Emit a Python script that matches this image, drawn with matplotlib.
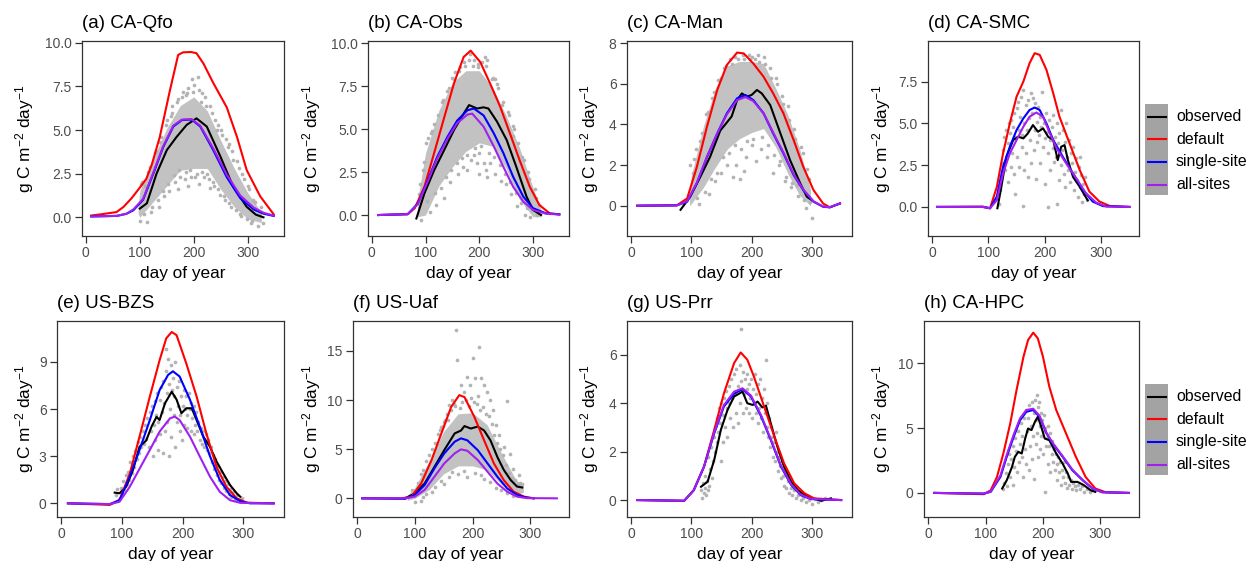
import matplotlib
matplotlib.use('Agg')
import matplotlib.pyplot as plt

plt.rcParams['font.family'] = ['Liberation Sans', 'DejaVu Sans']
plt.rcParams['mathtext.fontset'] = 'custom'
plt.rcParams['mathtext.rm'] = 'Liberation Sans'
plt.rcParams['mathtext.it'] = 'Liberation Sans:italic'
plt.rcParams['mathtext.bf'] = 'Liberation Sans:bold'

# ---- data: (day, value) pairs ----
series_names = ['observed', 'default', 'single-site', 'all-sites']
titles = ['(a) CA-Qfo', '(b) CA-Obs', '(c) CA-Man', '(d) CA-SMC',
          '(e) US-BZS', '(f) US-Uaf', '(g) US-Prr', '(h) CA-HPC']

# (a) CA-Qfo
qfo_obs = [(100,0.5),(113,0.8),(131,2.5),(150,3.85),(168,4.6),(187,5.3),(205,5.67),(224,5.2),
           (249,3.5),(273,1.75),(298,0.6),(315,0.15),(329,0.0)]
qfo_default = [(10,0.1),(30,0.18),(57,0.3),(70,0.6),(85,1.1),(100,1.7),(112,2.2),(122,3.0),(137,4.6),
               (156,7.3),(171,9.3),(180,9.45),(195,9.47),(205,9.4),(218,8.8),(236,7.7),(261,6.3),
               (280,4.6),(298,2.7),(323,1.2),(348,0.17)]
qfo_single = [(10,0.05),(57,0.08),(75,0.2),(88,0.4),(106,1.0),(125,2.5),(143,4.0),(162,5.2),(178,5.57),
              (196,5.6),(212,5.2),(236,3.85),(261,2.3),(286,1.1),(311,0.45),(330,0.2),(348,0.08)]
qfo_all = [(10,0.05),(57,0.08),(75,0.2),(88,0.45),(106,1.05),(125,2.55),(143,4.05),(162,5.25),(178,5.6),
           (196,5.62),(212,5.25),(236,3.95),(261,2.45),(286,1.25),(311,0.55),(330,0.25),(348,0.1)]
qfo_core = [(97,0.2,0.7),(100,0.0,1.5),(125,0.9,3.4),(150,1.8,5.1),(175,2.7,6.4),(200,2.8,6.9),
            (225,2.8,6.1),(250,1.6,4.4),(275,0.6,2.8),(300,-0.1,1.4),(325,-0.3,0.3)]
qfo_pts = [(100,-0.2),(105,2.0),(110,1.8),(113,-0.25),(115,2.6),(120,0.3),(130,3.8),(135,0.6),(140,4.6),
           (145,1.2),(150,5.6),(155,1.5),(160,6.0),(165,2.0),(170,6.8),(175,2.3),(180,7.2),(185,2.6),
           (190,7.4),(195,2.3),(200,7.6),(205,2.5),(208,8.05),(210,7.3),(215,2.6),(220,6.9),(225,2.5),
           (230,6.4),(235,2.0),(240,5.6),(245,1.6),(250,5.0),(255,1.2),(260,4.5),(265,0.8),(270,3.8),
           (280,3.2),(285,0.2),(290,2.5),(300,1.8),(305,-0.3),(310,1.0),(318,-0.5),(325,0.6),(190,1.8),
           (170,1.6),(210,1.9),(230,1.7),(160,6.4),(185,7.0),(197,7.9),(215,7.1),(245,5.3),(265,4.2),
           (103,1.9),(108,0.2),(118,2.9),(123,0.6),(128,3.7),(133,1.0),(138,4.3),(143,1.5),(148,5.3),
           (153,1.9),(158,5.8),(163,2.4),(168,6.6),(173,2.7),(178,6.9),(183,2.2),(188,7.1),(193,2.7),
           (198,7.2),(203,2.3),(213,6.6),(218,2.3),(223,6.4),(228,2.2),(233,6.0),(238,1.8),(243,5.0),
           (248,1.3),(253,4.7),(258,1.0),(263,4.0),(268,0.6),(273,3.3),(278,0.4),(283,2.8),(288,0.1),
           (293,2.2),(298,-0.1),(303,1.6),(308,-0.2),(313,0.9),(322,0.2),(328,-0.3)]

# (b) CA-Obs
obs_obs = [(83,-0.2),(98,1.26),(116,2.6),(135,3.8),(153,4.95),(171,5.9),(181,6.4),(196,6.2),(208,6.27),
           (217,6.2),(233,5.44),(251,4.37),(269,2.8),(288,1.07),(300,0.3),(315,0.0)]
obs_default = [(12,0.0),(67,0.05),(80,0.4),(98,1.65),(116,3.6),(135,5.7),(153,7.67),(171,9.2),(184,9.57),
               (202,8.9),(220,7.67),(239,6.3),(257,4.76),(275,3.2),(294,1.65),(312,0.58),(331,0.1),(349,0.04)]
obs_single = [(12,0.0),(67,0.05),(86,0.68),(104,2.0),(122,3.4),(141,4.56),(159,5.5),(178,6.1),(190,6.2),
              (208,5.8),(227,4.76),(245,3.6),(263,2.23),(282,1.07),(300,0.4),(324,0.1),(349,0.04)]
obs_all = [(12,0.0),(67,0.05),(86,0.65),(104,1.95),(122,3.3),(141,4.45),(159,5.35),(178,5.85),(187,5.9),
           (208,5.15),(227,4.0),(245,2.8),(263,1.65),(282,0.78),(300,0.3),(324,0.08),(349,0.03)]
obs_core = [(85,-0.1,0.8),(100,0.0,3.6),(125,1.7,6.1),(150,2.8,7.7),(175,3.7,8.4),(200,4.2,8.4),
            (225,4.0,7.4),(250,2.7,5.8),(275,0.9,3.9),(300,-0.1,1.6),(315,-0.1,0.3)]
obs_pts = [(90,1.8),(95,2.6),(100,4.2),(105,4.5),(110,4.8),(115,5.3),(120,0.6),(130,6.6),(135,1.0),
           (140,7.2),(145,1.9),(155,8.3),(160,2.4),(165,8.6),(170,2.8),(180,9.0),(182,9.4),(185,3.2),
           (190,9.0),(195,3.0),(200,2.4),(205,8.9),(210,9.2),(212,2.6),(215,9.0),(220,3.0),(225,8.0),
           (230,2.4),(235,7.4),(240,2.0),(245,6.6),(250,1.8),(255,5.8),(260,1.2),(265,5.0),(270,0.5),
           (280,3.4),(285,0.0),(290,2.5),(295,-0.1),(305,1.0),(190,3.5),(200,3.6),(215,2.2),(178,2.6),
           (92,-0.3),(108,0.2),(150,8.0),(172,8.9),(197,8.8),(230,7.9),(262,4.6),
           (88,1.2),(98,3.1),(103,0.8),(113,4.9),(118,1.3),(123,5.8),(128,1.6),(133,6.7),(138,2.2),
           (143,7.4),(148,2.6),(153,7.9),(158,3.0),(163,8.4),(168,3.3),(173,8.7),(178,3.5),(188,8.7),
           (193,3.9),(198,8.6),(203,4.0),(208,3.0),(213,8.7),(218,3.6),(223,7.9),(228,3.4),(233,7.6),
           (238,2.9),(243,6.4),(248,2.4),(253,6.0),(258,1.9),(263,5.2),(268,1.3),(273,4.2),(278,0.7),
           (283,3.2),(288,0.4),(293,2.1),(298,0.3),(303,1.5),(308,0.0),(312,0.6)]

# (c) CA-Man
man_obs = [(82,-0.2),(98,0.44),(115,1.43),(131,2.4),(148,3.7),(159,4.1),(167,4.4),(176,5.2),(184,5.53),
           (192,5.37),(200,5.45),(209,5.7),(217,5.53),(231,4.96),(248,3.56),(264,2.25),(281,1.1),
           (292,0.44),(300,0.28)]
man_default = [(10,0.0),(76,0.02),(93,0.36),(109,1.9),(126,3.9),(143,5.7),(159,6.93),(176,7.54),(187,7.5),
               (203,7.0),(220,6.35),(236,5.53),(253,4.55),(270,3.23),(286,1.92),(303,0.77),(319,0.11),
               (330,-0.08),(347,0.11)]
man_single = [(10,0.0),(76,0.02),(93,0.2),(109,1.1),(126,2.4),(143,3.56),(159,4.55),(176,5.29),(190,5.45),
              (203,5.2),(220,4.55),(236,3.56),(253,2.58),(270,1.51),(286,0.77),(303,0.2),(319,-0.05),
              (330,-0.08),(347,0.11)]
man_all = [(10,0.0),(76,0.02),(93,0.22),(109,1.12),(126,2.42),(143,3.55),(159,4.5),(176,5.2),(190,5.35),
           (203,5.15),(220,4.55),(236,3.6),(253,2.62),(270,1.55),(286,0.8),(303,0.22),(319,-0.04),
           (330,-0.07),(347,0.12)]
man_core = [(97,0.0,0.6),(100,0.1,1.5),(120,0.9,3.9),(140,1.9,5.8),(160,2.8,6.9),(180,3.3,7.1),
            (200,3.6,7.1),(220,3.8,7.0),(240,2.9,5.8),(260,1.6,4.5),(280,0.5,2.8),(298,0.0,0.8)]
man_pts = [(98,2.0),(102,1.6),(108,2.8),(112,0.1),(118,3.6),(125,4.5),(130,0.6),(135,5.3),(140,1.2),
           (145,6.2),(150,1.6),(155,6.8),(160,2.0),(165,7.2),(170,1.4),(172,7.3),(175,2.0),(180,1.3),
           (185,7.4),(190,2.4),(195,7.4),(200,3.0),(205,7.2),(210,7.4),(215,2.8),(220,7.3),(225,2.4),
           (230,6.8),(235,1.6),(240,6.3),(245,2.0),(250,5.4),(255,1.2),(260,4.9),(265,0.9),(270,3.8),
           (275,1.0),(285,2.6),(290,-0.1),(295,1.3),(300,-0.6),(188,1.7),(208,2.2),(150,6.3),(178,7.2),
           (200,7.3),(232,6.3),(252,5.0),
           (105,2.3),(110,0.4),(115,3.2),(122,0.7),(128,4.6),(133,1.3),(138,5.6),(143,1.6),(148,6.2),
           (153,2.4),(158,6.9),(163,2.6),(168,7.0),(173,3.0),(183,2.8),(188,7.2),(193,3.2),(198,7.2),
           (203,3.3),(213,7.1),(218,3.4),(223,7.0),(228,3.0),(238,2.5),(243,6.0),(248,2.2),(253,4.6),
           (258,1.4),(263,4.2),(268,1.1),(273,3.3),(278,0.5),(283,2.9),(288,0.3),(293,1.8),(297,0.2)]

# (d) CA-SMC
smc_obs = [(116,-0.08),(123,1.2),(132,3.0),(144,4.0),(153,4.2),(162,4.1),(170,4.4),(179,4.9),(188,4.5),
           (197,4.7),(206,4.2),(215,4.0),(223,2.8),(229,3.6),(235,3.7),(241,2.8),(250,1.8),(262,1.2),(276,0.4)]
smc_default = [(9,0.0),(90,0.02),(103,-0.08),(115,1.2),(126,3.2),(138,5.0),(150,6.6),(162,7.5),(173,8.6),
               (182,9.2),(191,9.1),(203,8.2),(215,6.8),(226,5.4),(244,3.8),(262,2.2),(279,0.92),(297,0.32),
               (315,0.06),(350,0.0)]
smc_single = [(9,0.0),(90,0.0),(103,-0.08),(115,0.62),(126,2.4),(138,3.6),(150,4.6),(162,5.3),(173,5.8),
              (182,5.95),(191,5.8),(203,5.0),(215,4.0),(232,3.0),(250,2.0),(268,1.0),(285,0.32),(303,0.05),
              (350,0.0)]
smc_all = [(9,0.0),(90,0.0),(103,-0.08),(115,0.4),(126,2.0),(138,3.2),(150,4.0),(162,4.8),(173,5.4),
           (185,5.65),(197,5.4),(209,4.4),(221,3.5),(238,2.6),(256,1.7),(273,0.82),(291,0.26),(309,0.02),
           (350,0.0)]
smc_core = []
smc_pts = [(118,0.2),(120,1.0),(122,1.8),(124,2.6),(126,3.4),(128,4.2),(130,2.2),(132,4.6),(134,3.8),
           (135,1.5),(136,5.0),(138,4.4),(140,5.2),(141,2.4),(142,3.2),(144,4.8),(145,5.6),(146,2.0),
           (147,0.75),(148,4.2),(150,5.9),(151,3.0),(152,6.3),(154,4.6),(155,2.4),(156,5.4),(158,6.6),
           (159,3.6),(160,4.3),(162,7.0),(162,0.08),(163,2.2),(164,5.0),(166,6.1),(167,3.2),(168,4.6),
           (170,6.4),(171,1.8),(172,5.3),(174,4.0),(175,6.8),(176,2.6),(178,5.6),(179,6.5),(180,3.4),
           (182,4.6),(183,6.2),(184,1.7),(186,5.1),(187,3.9),(188,6.0),(190,4.3),(191,2.6),(192,5.4),
           (194,4.8),(195,6.9),(196,3.6),(198,5.0),(200,4.1),(201,1.4),(202,5.6),(204,4.5),(205,0.0),
           (206,3.2),(208,5.2),(209,4.0),(210,2.2),(212,4.8),(214,3.5),(215,5.5),(216,2.7),(218,4.2),
           (220,3.0),(221,0.2),(222,5.0),(224,3.8),(225,1.6),(226,4.4),(228,5.8),(229,2.5),(230,3.4),
           (232,4.6),(234,2.0),(235,3.9),(236,1.2),(238,5.0),(240,3.0),(241,2.2),(243,4.0),(245,1.5),
           (246,3.2),(248,2.6),(250,3.6),(251,1.0),(253,2.1),(255,2.9),(257,1.6),(258,0.6),(260,2.4),
           (262,3.0),(263,1.2),(265,1.9),(266,0.3),(268,1.4),(270,0.8),(272,1.8),(274,0.4)]

# (e) US-BZS
bzs_obs = [(88,0.68),(96,0.64),(107,1.06),(118,2.1),(129,3.6),(140,4.0),(149,4.9),(157,5.5),(162,5.3),
           (171,6.37),(182,7.1),(190,6.6),(198,5.73),(206,6.05),(215,6.05),(223,5.3),(234,4.25),(245,3.6),
           (256,2.65),(267,1.9),(278,1.17),(289,0.64),(295,0.42)]
bzs_default = [(11,0.0),(80,-0.1),(96,0.2),(113,1.9),(129,4.25),(146,6.8),(162,9.1),(173,10.5),(182,10.9),
               (190,10.7),(206,8.9),(223,6.8),(239,4.46),(256,2.3),(272,1.06),(289,0.32),(306,0.04),(350,0.0)]
bzs_single = [(11,0.0),(80,-0.05),(96,0.2),(113,1.7),(129,3.4),(146,5.3),(162,7.2),(176,8.17),(184,8.4),
              (195,8.07),(212,6.6),(228,4.9),(245,3.0),(261,1.5),(278,0.53),(295,0.13),(311,0.0),(350,0.0)]
bzs_all = [(11,0.0),(80,-0.05),(96,0.1),(113,1.06),(129,2.2),(146,3.4),(162,4.56),(179,5.4),(187,5.52),
           (195,5.3),(212,4.25),(228,3.0),(245,1.7),(261,0.74),(278,0.2),(295,0.03),(350,0.0)]
bzs_core = []
bzs_pts = [(90,0.5),(92,0.9),(95,0.3),(98,1.0),(100,0.6),(102,1.4),(104,0.9),(106,1.8),(108,1.2),
           (110,2.0),(112,1.5),(114,2.6),(116,1.9),(118,3.0),(120,2.3),(122,3.3),(124,2.8),(126,3.9),
           (128,3.2),(130,4.2),(132,3.6),(134,4.6),(136,3.8),(138,5.0),(140,4.1),(142,5.4),(144,3.6),
           (146,5.8),(148,4.6),(150,6.2),(151,3.0),(152,5.0),(154,6.5),(155,4.0),(156,5.6),(158,7.0),
           (159,3.4),(160,5.2),(162,6.6),(163,4.4),(164,7.4),(166,5.8),(167,3.2),(168,7.8),(170,6.4),
           (171,4.6),(172,8.4),(173,9.8),(174,7.0),(175,5.2),(176,9.2),(177,3.0),(178,7.6),(179,6.0),
           (180,8.8),(181,4.2),(182,7.2),(184,8.0),(185,5.6),(186,6.8),(187,9.0),(188,3.6),(190,7.4),
           (191,5.2),(192,6.2),(194,7.8),(195,4.6),(196,5.6),(198,6.8),(199,4.0),(200,6.2),(202,7.2),
           (203,5.0),(204,6.0),(206,6.8),(207,4.8),(208,5.6),(210,7.0),(212,6.0),(213,4.6),(214,6.4),
           (216,5.4),(218,6.2),(219,4.4),(220,5.0),(222,5.8),(224,4.6),(226,5.2),(228,4.0),(230,4.8),
           (232,3.8),(234,4.6),(236,3.6),(238,4.4),(240,3.4),(242,4.0),(244,3.2),(246,3.6),(248,2.6),
           (250,3.1),(252,2.2),(254,2.8),(256,1.8),(258,2.4),(260,1.5),(262,2.0),(264,1.3),(266,1.7),
           (268,1.0),(270,1.4),(272,0.8),(274,1.2),(276,0.6),(278,0.9),(280,0.4),(283,0.7),(286,0.3),
           (290,0.5),(294,0.2),(298,0.35)]

# (f) US-Uaf
uaf_obs = [(83,0.0),(100,0.5),(117,1.5),(134,3.2),(151,4.9),(169,6.6),(180,6.9),(186,7.35),(197,7.1),
           (209,7.3),(220,6.9),(231,5.9),(243,4.2),(254,2.9),(266,1.86),(277,1.2),(286,1.1)]
uaf_default = [(9,0.0),(77,0.0),(94,0.17),(111,1.5),(129,3.9),(146,6.6),(163,9.3),(177,10.5),(186,10.3),
               (203,8.3),(220,5.9),(237,3.55),(254,1.86),(271,0.68),(289,0.17),(306,0.0)]
uaf_single = [(9,0.0),(83,-0.05),(100,0.34),(117,1.35),(134,3.05),(151,4.57),(169,5.76),(180,6.1),(191,5.9),
              (209,4.9),(226,3.55),(243,2.2),(260,1.0),(277,0.34),(294,0.07),(306,0.0)]
uaf_all = [(9,0.0),(83,0.0),(100,0.17),(117,0.85),(134,2.2),(151,3.55),(169,4.57),(180,4.98),(191,4.84),
           (209,3.9),(226,2.7),(243,1.5),(260,0.68),(277,0.17),(294,0.02),(346,0.0)]
uaf_core = [(87,-0.2,0.3),(100,0.0,1.1),(125,0.9,3.8),(150,2.5,6.8),(175,3.3,8.6),(200,3.3,8.7),
            (225,2.9,7.5),(250,1.4,4.6),(275,0.4,1.9),(288,0.6,1.3)]
uaf_pts = [(172,17.1),(173,14.1),(212,15.4),(200,14.3),(190,12.3),(195,11.5),(205,12.2),(215,12.2),
           (220,11.5),(225,10.8),(230,10.0),(260,9.9),(180,11.5),(185,10.8),(165,10.0),(160,9.5),(155,8.6),
           (150,7.8),(145,7.3),(140,6.5),(130,5.0),(120,3.8),(110,2.5),(210,10.4),(235,9.0),(240,7.5),
           (245,6.4),(255,5.2),(265,4.5),(270,3.0),(280,2.4),(285,1.5),(150,1.5),(160,2.2),(175,2.5),
           (190,2.2),(205,2.6),(220,2.0),(240,1.0),(260,0.5),(135,1.2),(120,0.4),(110,-0.3),(100,-0.4),
           (95,0.8),(170,9.4),(182,9.8),(198,10.2),(208,9.6),(218,9.3),(228,8.4),(158,8.0),
           (105,1.6),(115,2.9),(125,4.4),(135,5.6),(143,7.0),(148,7.4),(153,8.0),(163,9.0),(168,9.6),
           (178,9.2),(188,10.0),(193,9.4),(203,9.8),(213,9.0),(223,8.6),(233,7.6),(238,6.4),(243,5.6),
           (248,5.0),(253,4.4),(258,3.4),(263,2.6),(268,2.1),(273,1.9),(278,1.5),(283,1.6),(115,0.1),
           (130,0.6),(145,1.8),(165,2.7),(185,2.8),(215,2.4),(230,1.7),(250,0.8),(270,0.2)]

# (g) US-Prr
prr_obs = [(116,0.55),(127,0.76),(138,1.66),(149,2.9),(160,3.72),(171,4.28),(185,4.48),(193,4.0),(202,3.93),
           (210,4.07),(218,3.83),(224,3.9),(232,3.17),(243,2.2),(254,1.38),(266,0.76),(277,0.41),(293,0.14),
           (316,-0.03),(332,0.07)]
prr_default = [(10,0.0),(88,-0.03),(104,0.41),(121,1.38),(138,2.9),(154,4.4),(171,5.66),(182,6.1),(193,5.8),
               (204,5.1),(221,3.86),(238,2.62),(254,1.52),(271,0.69),(288,0.28),(304,0.07),(349,0.0)]
prr_single = [(10,0.0),(88,-0.03),(104,0.41),(121,1.38),(138,2.76),(154,3.86),(171,4.4),(185,4.58),(199,4.28),
              (216,3.45),(232,2.48),(249,1.38),(266,0.62),(282,0.2),(299,0.04),(349,0.0)]
prr_all = [(10,0.0),(88,-0.03),(104,0.4),(121,1.38),(138,2.8),(154,3.92),(171,4.48),(185,4.62),(199,4.32),
           (216,3.5),(232,2.52),(249,1.42),(266,0.65),(282,0.22),(299,0.05),(349,0.0)]
prr_core = []
prr_pts = [(116,0.4),(118,0.1),(119,0.7),(121,0.3),(122,1.0),(123,0.5),(125,0.2),(126,0.8),(127,1.8),
           (128,0.4),(130,0.6),(131,1.3),(133,2.2),(134,0.9),(136,1.6),(137,2.6),(139,2.0),(140,3.0),
           (142,2.4),(143,3.4),(145,2.8),(146,3.8),(148,3.2),(149,1.6),(150,4.0),(152,3.5),(153,2.4),
           (155,4.2),(156,3.0),(158,4.5),(159,3.8),(160,2.6),(162,4.7),(163,4.0),(165,3.4),(166,5.0),
           (168,4.2),(169,3.0),(171,5.2),(172,4.4),(174,3.6),(175,5.4),(177,4.7),(178,3.2),(180,5.6),
           (181,4.0),(182,7.05),(183,4.9),(185,3.6),(186,5.3),(187,4.4),(189,5.0),(190,3.8),(192,4.6),
           (193,5.2),(195,3.6),(196,4.8),(198,4.2),(199,5.0),(201,3.4),(202,4.6),(204,4.0),(205,5.2),
           (207,3.6),(208,4.4),(210,3.2),(211,4.8),(213,3.8),(214,5.0),(216,3.4),(217,4.2),(219,2.8),
           (220,4.6),(222,3.6),(224,5.8),(225,3.0),(226,4.0),(228,2.6),(229,3.4),(231,2.2),(232,3.0),
           (234,2.6),(236,1.8),(237,2.4),(239,1.6),(240,2.8),(242,2.0),(244,1.2),(245,1.8),(247,1.4),
           (249,0.9),(250,1.6),(252,1.0),(254,0.6),(256,1.2),(258,0.5),(260,0.8),(262,0.3),(265,0.5),
           (268,0.2),(271,0.4),(274,0.1),(278,0.2),(282,0.0),(286,0.1),(290,-0.1),(295,0.0),(300,-0.15),
           (305,0.05),(310,-0.1),(316,0.0),(322,0.1)]

# (h) CA-HPC
hpc_obs = [(129,0.34),(137,0.98),(146,2.0),(151,2.78),(157,3.17),(163,3.04),(169,4.2),(174,4.97),(180,4.85),
           (186,5.49),(191,5.88),(197,5.1),(203,4.2),(211,4.07),(223,3.04),(234,2.27),(243,1.5),(249,0.85),
           (260,0.85),(271,0.6),(283,0.2),(291,0.08)]
hpc_default = [(11,0.0),(97,-0.1),(109,0.2),(120,1.24),(131,3.04),(143,5.36),(154,7.94),(166,10.5),(174,11.8),
               (183,12.37),(191,11.93),(200,10.5),(211,8.2),(223,6.4),(240,4.6),(257,2.8),(274,1.24),(291,0.34),
               (309,0.05),(349,0.0)]
hpc_single = [(11,0.0),(97,-0.05),(109,0.08),(126,1.24),(137,2.8),(149,4.33),(160,5.6),(171,6.26),(183,6.4),
              (194,5.88),(206,4.6),(217,3.8),(234,2.8),(251,1.75),(269,0.98),(286,0.34),(303,0.05),(349,0.0)]
hpc_all = [(11,0.0),(97,-0.05),(109,0.1),(126,1.35),(137,2.95),(149,4.5),(160,5.75),(171,6.4),(183,6.5),
           (194,5.95),(206,4.65),(217,3.85),(234,2.85),(251,1.8),(269,1.0),(286,0.36),(303,0.05),(349,0.0)]
hpc_core = []
hpc_pts = [(130,0.3),(133,0.8),(135,1.5),(137,0.5),(139,2.2),(141,3.0),(143,1.2),(145,2.6),(147,3.6),
           (148,0.6),(150,2.0),(152,4.2),(153,3.2),(155,1.6),(157,4.8),(158,2.4),(160,3.8),(161,5.4),
           (163,2.8),(164,4.4),(166,1.2),(167,5.8),(168,3.4),(170,6.4),(171,2.2),(172,4.8),(174,5.8),
           (175,1.8),(176,6.8),(177,3.6),(179,5.2),(180,7.0),(181,2.6),(182,4.4),(184,6.2),(185,1.1),
           (186,7.2),(187,3.8),(188,5.6),(189,7.55),(190,4.6),(191,6.6),(192,2.8),(193,7.0),(194,5.2),
           (195,3.4),(196,6.2),(197,4.4),(198,5.6),(200,3.0),(201,6.0),(202,4.8),(203,0.1),(204,5.0),
           (205,3.6),(207,4.2),(208,2.2),(209,5.2),(211,3.6),(212,1.6),(213,4.6),(215,3.0),(216,4.0),
           (218,2.4),(219,3.4),(221,1.8),(222,3.0),(224,2.2),(225,1.0),(226,2.8),(228,1.6),(230,2.4),
           (231,0.6),(233,1.8),(235,1.2),(236,2.4),(238,0.8),(240,1.6),(242,0.4),(244,1.2),(246,0.6),
           (248,1.0),(250,0.3),(252,0.8),(255,0.5),(258,0.2),(261,0.6),(264,0.3),(268,0.5),(272,0.1),
           (276,0.3),(281,0.1),(286,0.2)]

panels = [
    (qfo_pts, qfo_core, [qfo_obs, qfo_default, qfo_single, qfo_all]),
    (obs_pts, obs_core, [obs_obs, obs_default, obs_single, obs_all]),
    (man_pts, man_core, [man_obs, man_default, man_single, man_all]),
    (smc_pts, smc_core, [smc_obs, smc_default, smc_single, smc_all]),
    (bzs_pts, bzs_core, [bzs_obs, bzs_default, bzs_single, bzs_all]),
    (uaf_pts, uaf_core, [uaf_obs, uaf_default, uaf_single, uaf_all]),
    (prr_pts, prr_core, [prr_obs, prr_default, prr_single, prr_all]),
    (hpc_pts, hpc_core, [hpc_obs, hpc_default, hpc_single, hpc_all]),
]

yticks = [[0, 2.5, 5, 7.5, 10], [0, 2.5, 5, 7.5, 10], [0, 2, 4, 6, 8], [0, 2.5, 5, 7.5],
          [0, 3, 6, 9], [0, 5, 10, 15], [0, 2, 4, 6], [0, 5, 10]]
yfmt = ['%.1f', '%.1f', '%d', '%.1f', '%d', '%d', '%d', '%d']

# ---- layout (pixels) ----
W, H = 1257, 561
ylims = [(-1.07, 10.1), (-1.22, 10.13), (-1.49, 8.11), (-1.74, 9.93),
         (-0.87, 11.6), (-1.9, 18.04), (-0.7, 7.4), (-1.86, 13.27)]
boxes = [(82, 41, 284, 236), (368, 41, 569, 236), (627, 41, 852, 236), (928, 41, 1139, 236),
         (57, 321, 284, 517), (353, 321, 569, 517), (627, 321, 852, 517), (924, 321, 1139, 517)]
ylab_x = [25, 312, 590, 882]

COLORS = ['black', '#FF0000', '#0000FF', '#A020F0']
PT = '#B3B3B3'
CORE = '#C2C2C2'
EDGE = '#333333'

fig = plt.figure(figsize=(W / 100, H / 100), dpi=100)

for i, (pts, core, lines) in enumerate(panels):
    l, t, r, b = boxes[i]
    ax = fig.add_axes([l / W, 1 - b / H, (r - l) / W, (b - t) / H])
    if core:
        d, lo, hi = zip(*core)
        ax.fill_between(d, lo, hi, color=CORE, lw=0, zorder=1)
    d, v = zip(*pts)
    ax.scatter(d, v, s=7, color=PT, linewidths=0, zorder=1)
    for s, col in zip(lines, COLORS):
        d, v = zip(*s)
        ax.plot(d, v, color=col, lw=1.5, zorder=3, solid_joinstyle='round')
    ax.set_xlim(-7, 367)
    ax.set_ylim(*ylims[i])
    ax.set_xticks([0, 100, 200, 300])
    ax.set_yticks(yticks[i])
    ax.set_yticklabels([yfmt[i] % v for v in yticks[i]])
    ax.tick_params(length=5, width=0.9, color=EDGE, labelcolor='#4D4D4D', labelsize=10, pad=2.5)
    for sp in ax.spines.values():
        sp.set_color(EDGE)
        sp.set_linewidth(0.9)
    ax.set_title(titles[i], loc='left', fontsize=13.5, pad=9)
    fig.text((l + r) / 2 / W, 1 - (b + 30) / H, 'day of year', ha='center', va='top', fontsize=12.4)
    fig.text(ylab_x[i % 4] / W, 1 - (t + b) / 2 / H, r'g C m$^{-2}$ day$^{-1}$',
             rotation=90, ha='center', va='center', fontsize=12.4)

# legends, one per row
for row_off in [0, 280]:
    fig.patches.append(plt.Rectangle((1145 / W, 1 - (195 + row_off) / H), 23 / W, 91 / H,
                                     transform=fig.transFigure, color='#A3A3A3', lw=0, figure=fig))
    for k, (name, col) in enumerate(zip(series_names, COLORS)):
        yy = 1 - (116.7 + 22.6 * k + row_off) / H
        fig.lines.append(plt.Line2D([1148 / W, 1166 / W], [yy, yy], transform=fig.transFigure,
                                    color=col, lw=1.5, figure=fig))
        fig.text(1176 / W, yy, name, ha='left', va='center', fontsize=11.4)

fig.savefig('out.png', dpi=100)
